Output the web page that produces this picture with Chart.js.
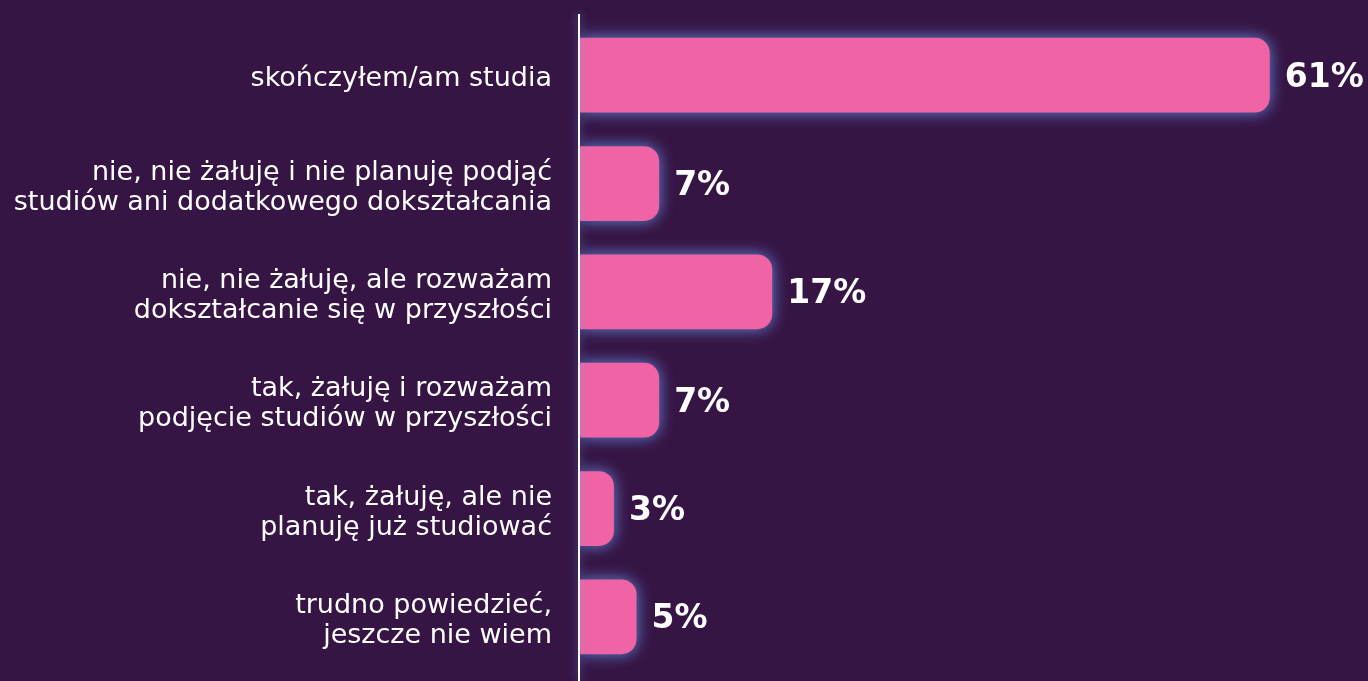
<!DOCTYPE html>
<html>
<head>
<meta charset="utf-8">
<script src="https://cdn.jsdelivr.net/npm/chart.js@4.4.0/dist/chart.umd.min.js"></script>
<style>
  html, body { margin: 0; padding: 0; background: #361444; }
  #wrap { width: 1368px; height: 681px; position: relative; }
</style>
</head>
<body>
<div id="wrap"><canvas id="chart"></canvas></div>
<script>
// Data ----------------------------------------------------------------------->
const categories = [
    ["skończyłem/am studia"],
    ["nie, nie żałuję i nie planuję podjąć", "studiów ani dodatkowego dokształcania"],
    ["nie, nie żałuję, ale rozważam", "dokształcanie się w przyszłości"],
    ["tak, żałuję i rozważam", "podjęcie studiów w przyszłości"],
    ["tak, żałuję, ale nie", "planuję już studiować"],
    ["trudno powiedzieć,", "jeszcze nie wiem"]
];
const shares = [61, 7, 17, 7, 3, 5];
const valueLabels = ["61%", "7%", "17%", "7%", "3%", "5%"];

// Glow behind bars + axis line + value labels
const glowPlugin = {
    id: 'glow',
    beforeDatasetsDraw(chart) {
        const ctx = chart.ctx;
        ctx.save();
        ctx.shadowColor = 'rgba(105, 150, 235, 0.9)';
        ctx.shadowBlur = 16;
    },
    afterDatasetsDraw(chart) {
        const ctx = chart.ctx;
        ctx.restore();

        // vertical axis line
        const x = chart.chartArea.left;
        ctx.save();
        ctx.shadowColor = 'rgba(105, 150, 235, 0.8)';
        ctx.shadowBlur = 10;
        ctx.strokeStyle = '#ffffff';
        ctx.lineWidth = 2;
        ctx.beginPath();
        ctx.moveTo(x - 1, 14);
        ctx.lineTo(x - 1, chart.height);
        ctx.stroke();
        ctx.restore();

        // value labels
        const meta = chart.getDatasetMeta(0);
        ctx.save();
        ctx.fillStyle = '#ffffff';
        ctx.font = 'bold 33px "DejaVu Sans"';
        ctx.textAlign = 'left';
        ctx.textBaseline = 'middle';
        meta.data.forEach((bar, i) => {
            ctx.fillText(valueLabels[i], bar.x + 15, bar.y + 3);
        });
        ctx.restore();
    }
};

new Chart(document.getElementById('chart'), {
    type: 'bar',
    data: {
        labels: categories,
        datasets: [{
            data: shares,
            backgroundColor: '#f064a6',
            borderRadius: 15,
            borderSkipped: 'start',
            categoryPercentage: 0.69,
            barPercentage: 1.0
        }]
    },
    options: {
        indexAxis: 'y',
        responsive: true,
        maintainAspectRatio: false,
        animation: false,
        layout: { padding: { top: 21, bottom: 10, left: 0, right: 1 } },
        plugins: {
            legend: { display: false },
            tooltip: { enabled: false }
        },
        scales: {
            x: {
                min: 0,
                max: 69.6,
                display: false
            },
            y: {
                grid: { display: false, drawTicks: false },
                border: { display: false },
                afterFit(scale) {
                    scale.width = 580;
                    scale.paddingTop = 0;
                    scale.paddingBottom = 0;
                },
                ticks: {
                    color: '#ffffff',
                    padding: 28,
                    labelOffset: 4,
                    font: { family: '"DejaVu Sans"', size: 27, weight: '400', lineHeight: 1.11 }
                }
            }
        }
    },
    plugins: [glowPlugin]
});
</script>
</body>
</html>
